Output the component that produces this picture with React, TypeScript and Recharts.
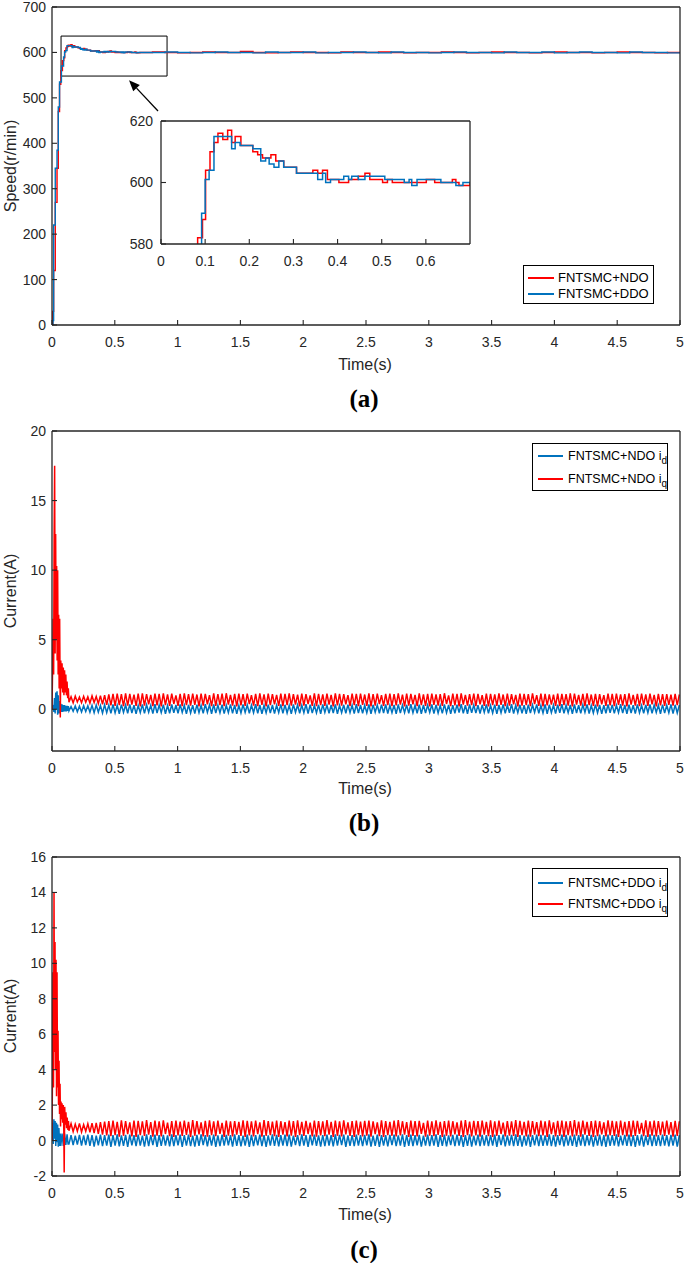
import React from 'react';
import { LineChart, Line, XAxis, YAxis, ReferenceArea, ReferenceLine, Legend } from 'recharts';

const FONT = '"Liberation Sans", Arial, Helvetica, sans-serif';
const SERIF = '"Liberation Serif", "DejaVu Serif", "Times New Roman", serif';
const INK = '#262626';
const RED = '#ff0000';
const BLUE = '#0072bd';

// ---------- tick labels ----------
const TIME_TICKS = [0, 0.5, 1, 1.5, 2, 2.5, 3, 3.5, 4, 4.5, 5];
const SPEED_TICKS = [0, 100, 200, 300, 400, 500, 600, 700];
const INSET_TIME_TICKS = [0, 0.1, 0.2, 0.3, 0.4, 0.5, 0.6];
const INSET_SPEED_TICKS = [580, 600, 620];
const CURRENT_B_TICKS = [0, 5, 10, 15, 20];
const CURRENT_C_TICKS = [-2, 0, 2, 4, 6, 8, 10, 12, 14, 16];

// ---------- series names ----------
const NAME_NDO = 'FNTSMC+NDO';
const NAME_DDO = 'FNTSMC+DDO';
const NAME_NDO_ID = 'FNTSMC+NDO i_d';
const NAME_NDO_IQ = 'FNTSMC+NDO i_q';
const NAME_DDO_ID = 'FNTSMC+DDO i_d';
const NAME_DDO_IQ = 'FNTSMC+DDO i_q';

// ---------- (a) speed, [time s, speed r/min] ----------
const SPEED_NDO_START: [number, number][] = [
  [0, 0], [0.006, 30], [0.013, 120], [0.026, 270], [0.04, 345], [0.05, 470], [0.06, 530], [0.07, 560],
  [0.083, 582], [0.094, 588], [0.101, 604], [0.111, 610], [0.12, 613], [0.129, 616], [0.14, 614],
  [0.151, 617], [0.16, 613], [0.168, 615], [0.181, 612], [0.208, 610], [0.219, 609], [0.23, 608],
  [0.249, 609], [0.26, 607], [0.278, 605], [0.307, 603], [0.344, 604], [0.355, 603], [0.366, 604],
  [0.377, 601], [0.403, 600], [0.425, 601], [0.447, 602], [0.462, 603], [0.473, 601], [0.502, 600],
  [0.513, 601], [0.524, 600], [0.601, 601], [0.62, 600], [0.66, 601], [0.668, 600], [0.675, 599],
];
const SPEED_DDO_START: [number, number][] = [
  [0, 0], [0.008, 10], [0.013, 220], [0.026, 345], [0.04, 385], [0.05, 480], [0.06, 535], [0.075, 570],
  [0.092, 590], [0.1, 601], [0.109, 604], [0.12, 615], [0.16, 611], [0.168, 613], [0.179, 612],
  [0.208, 611], [0.226, 607], [0.237, 608], [0.245, 606], [0.256, 605], [0.267, 607], [0.278, 605],
  [0.307, 603], [0.355, 601], [0.366, 603], [0.373, 600], [0.384, 601], [0.414, 602], [0.425, 601],
  [0.432, 602], [0.447, 601], [0.462, 602], [0.507, 601], [0.551, 600], [0.562, 601], [0.568, 599],
  [0.58, 601], [0.634, 600], [0.668, 599], [0.684, 600],
];
const SPEED_NDO_TAIL: [number, number][] = [
  [0.7, 600], [0.8, 601], [0.9, 600], [1.0, 599], [1.1, 600], [1.2, 601], [1.3, 600], [1.4, 600],
  [1.5, 602], [1.6, 600], [1.7, 599], [1.8, 600], [1.9, 601], [2.0, 600], [2.1, 600], [2.2, 599],
  [2.3, 601], [2.4, 600], [2.5, 600], [2.6, 601], [2.7, 600], [2.8, 599], [2.9, 600], [3.0, 600],
  [3.1, 601], [3.2, 600], [3.3, 599], [3.4, 600], [3.5, 601], [3.6, 600], [3.7, 600], [3.8, 599],
  [3.9, 600], [4.0, 601], [4.1, 600], [4.2, 600], [4.3, 599], [4.4, 600], [4.5, 601], [4.6, 600],
  [4.7, 600], [4.8, 599], [4.9, 600], [5.0, 600],
];
const SPEED_DDO_TAIL: [number, number][] = [
  [0.7, 600], [0.8, 600], [0.9, 601], [1.0, 600], [1.1, 599], [1.2, 600], [1.3, 601], [1.4, 600],
  [1.5, 600], [1.6, 599], [1.7, 601], [1.8, 600], [1.9, 600], [2.0, 601], [2.1, 599], [2.2, 600],
  [2.3, 600], [2.4, 601], [2.5, 600], [2.6, 599], [2.7, 601], [2.8, 600], [2.9, 600], [3.0, 599],
  [3.1, 600], [3.2, 601], [3.3, 600], [3.4, 600], [3.5, 599], [3.6, 601], [3.7, 600], [3.8, 600],
  [3.9, 601], [4.0, 599], [4.1, 600], [4.2, 601], [4.3, 600], [4.4, 600], [4.5, 599], [4.6, 601],
  [4.7, 600], [4.8, 600], [4.9, 599], [5.0, 600],
];
// zoom window and arrow in (a), in data units
const ZOOM_WINDOW = { t1: 0.072, t2: 0.916, v1: 548, v2: 636 };
const ARROW_FROM = { t: 0.844, v: 471 };
const ARROW_TO = { t: 0.613, v: 539 };

// ---------- (b), (c) currents: start-up transient [time s, A] ----------
const IQ_NDO_START: [number, number][] = [
  [0, 0], [0.005, 3.0], [0.009, 6.5], [0.013, 2.5], [0.017, 12.5], [0.021, 17.5], [0.025, 4.0],
  [0.029, 12.6], [0.033, 5.0], [0.037, 10.3], [0.041, 3.5], [0.045, 10.0], [0.049, 2.5], [0.053, 6.8],
  [0.057, 1.5], [0.061, 6.5], [0.066, -0.6], [0.07, 3.5], [0.075, 1.5], [0.08, 3.3], [0.085, 1.2],
  [0.09, 3.0], [0.095, 1.0], [0.1, 2.8], [0.105, 1.2], [0.11, 2.5], [0.115, 1.0], [0.12, 2.0],
  [0.125, 0.8], [0.13, 1.5],
];
const ID_NDO_START: [number, number][] = [
  [0, 0], [0.01, 0.3], [0.015, -0.2], [0.02, 0.8], [0.025, -0.3], [0.03, 1.2], [0.035, 0.0],
  [0.04, 1.3], [0.045, -0.4], [0.05, 1.0], [0.055, -0.3], [0.06, 0.6], [0.065, -0.3], [0.07, 0.4],
  [0.075, -0.2], [0.08, 0.35], [0.085, -0.2], [0.09, 0.3], [0.095, -0.15], [0.1, 0.3], [0.105, -0.15],
  [0.11, 0.25], [0.115, -0.15], [0.12, 0.25], [0.125, -0.12], [0.13, 0.22],
];
const IQ_DDO_START: [number, number][] = [
  [0, 0], [0.004, 4.0], [0.008, 9.5], [0.012, 3.0], [0.016, 14.0], [0.02, 5.0], [0.024, 11.2],
  [0.028, 4.0], [0.032, 10.2], [0.036, 2.5], [0.04, 9.5], [0.044, 3.0], [0.048, 6.2], [0.052, 2.0],
  [0.056, 4.5], [0.06, 1.5], [0.064, 3.2], [0.068, 0.8], [0.072, 2.2], [0.076, 1.2], [0.08, 2.1],
  [0.085, 1.0], [0.09, 2.0], [0.094, 0.6], [0.097, -1.8], [0.101, 1.9], [0.106, 0.9], [0.111, 1.6],
  [0.116, 0.7], [0.121, 1.3], [0.127, 0.6], [0.131, 1.1],
];
const ID_DDO_START: [number, number][] = [
  [0, 0], [0.005, 1.0], [0.01, -0.2], [0.015, 1.2], [0.02, 0.1], [0.025, 1.1], [0.03, -0.3],
  [0.035, 1.0], [0.04, -0.1], [0.045, 0.9], [0.05, -0.35], [0.055, 0.7], [0.06, -0.3], [0.065, 0.4],
  [0.07, -0.3], [0.08, 0.4], [0.09, -0.3], [0.1, 0.4], [0.11, -0.25], [0.12, 0.35], [0.128, -0.2],
];

// steady-state ripple samples, one every STEADY_STEP seconds from STEADY_START
const STEADY_START = 0.135;
const STEADY_STEP = 0.0167;
const IQ_NDO_RIPPLE = [
  0.5, 0.9, 0.46, 0.94, 0.52, 0.88, 0.47, 0.93, 0.5, 0.9,
  0.44, 0.96, 0.48, 0.92, 0.4, 0.98, 0.36, 1.02, 0.32, 1.06,
  0.28, 1.1, 0.25, 1.12, 0.3, 1.08, 0.22, 1.14, 0.26, 1.1,
  0.33, 1.05, 0.24, 1.12, 0.2, 1.15, 0.27, 1.09, 0.35, 1.03,
  0.23, 1.13, 0.28, 1.1, 0.21, 1.14, 0.3, 1.07, 0.25, 1.12,
  0.38, 1.0, 0.24, 1.11, 0.22, 1.15, 0.29, 1.08, 0.26, 1.13,
  0.32, 1.06, 0.21, 1.12, 0.27, 1.1, 0.36, 1.02, 0.23, 1.14,
  0.25, 1.09, 0.3, 1.12, 0.22, 1.15, 0.34, 1.04, 0.27, 1.11,
  0.2, 1.13, 0.28, 1.08, 0.24, 1.12, 0.37, 1.01, 0.26, 1.1,
  0.23, 1.14, 0.31, 1.07, 0.21, 1.12, 0.29, 1.09, 0.35, 1.03,
  0.24, 1.13, 0.22, 1.1, 0.3, 1.15, 0.26, 1.08, 0.33, 1.05,
  0.21, 1.12, 0.27, 1.09, 0.38, 1.0, 0.25, 1.14, 0.22, 1.11,
  0.3, 1.07, 0.24, 1.12, 0.34, 1.04, 0.2, 1.15, 0.28, 1.1,
  0.26, 1.08, 0.36, 1.02, 0.23, 1.13, 0.29, 1.1, 0.22, 1.12,
  0.32, 1.06, 0.25, 1.14, 0.21, 1.09, 0.27, 1.12, 0.37, 1.01,
  0.24, 1.1, 0.3, 1.13, 0.22, 1.08, 0.28, 1.15, 0.33, 1.05,
  0.2, 1.12, 0.26, 1.1, 0.35, 1.03, 0.23, 1.14, 0.29, 1.07,
  0.25, 1.11, 0.21, 1.13, 0.31, 1.06, 0.27, 1.09, 0.24, 1.15,
  0.38, 1.0, 0.22, 1.12, 0.28, 1.1, 0.2, 1.14, 0.34, 1.04,
  0.26, 1.08, 0.3, 1.12, 0.23, 1.1, 0.36, 1.02, 0.25, 1.13,
  0.21, 1.11, 0.29, 1.07, 0.24, 1.15, 0.32, 1.06, 0.22, 1.12,
  0.27, 1.09, 0.35, 1.03, 0.2, 1.13, 0.26, 1.1, 0.3, 1.08,
  0.23, 1.14, 0.37, 1.01, 0.25, 1.12, 0.21, 1.1, 0.28, 1.07,
  0.33, 1.05, 0.24, 1.13, 0.22, 1.11, 0.3, 1.09, 0.26, 1.14,
  0.2, 1.12, 0.34, 1.04, 0.27, 1.1, 0.23, 1.15, 0.29, 1.06,
  0.25, 1.11, 0.21, 1.08, 0.36, 1.02, 0.24, 1.13, 0.28, 1.1,
  0.22, 1.12, 0.31, 1.06, 0.26, 1.09, 0.2, 1.14, 0.33, 1.04,
  0.27, 1.1, 0.23, 1.12, 0.3, 1.07, 0.25, 1.13, 0.35, 1.03,
  0.21, 1.11, 0.28, 1.09, 0.24, 1.08, 0.32, 1.05, 0.26, 1.1,
  0.3, 1.06,
];
const ID_NDO_RIPPLE = [
  -0.12, 0.2, -0.15, 0.24, -0.18, 0.22, -0.2, 0.26, -0.17, 0.25,
  -0.22, 0.28, -0.25, 0.3, -0.21, 0.27, -0.28, 0.32, -0.24, 0.3,
  -0.3, 0.34, -0.26, 0.29, -0.32, 0.33, -0.23, 0.31, -0.29, 0.35,
  -0.27, 0.3, -0.33, 0.28, -0.25, 0.34, -0.3, 0.32, -0.22, 0.29,
  -0.31, 0.36, -0.28, 0.3, -0.24, 0.33, -0.32, 0.27, -0.29, 0.34,
  -0.26, 0.31, -0.3, 0.35, -0.23, 0.29, -0.33, 0.32, -0.27, 0.3,
  -0.31, 0.33, -0.25, 0.28, -0.29, 0.36, -0.22, 0.31, -0.32, 0.34,
  -0.28, 0.3, -0.26, 0.33, -0.31, 0.29, -0.24, 0.35, -0.3, 0.32,
  -0.33, 0.28, -0.27, 0.34, -0.23, 0.31, -0.3, 0.3, -0.25, 0.36,
  -0.29, 0.32, -0.32, 0.29, -0.26, 0.33, -0.28, 0.31, -0.31, 0.3,
  -0.24, 0.35, -0.3, 0.32, -0.27, 0.28, -0.33, 0.34, -0.22, 0.31,
  -0.29, 0.3, -0.25, 0.36, -0.31, 0.33, -0.28, 0.29, -0.26, 0.32,
  -0.32, 0.34, -0.23, 0.3, -0.3, 0.31, -0.27, 0.35, -0.33, 0.28,
  -0.25, 0.32, -0.29, 0.33, -0.24, 0.3, -0.31, 0.36, -0.28, 0.31,
  -0.3, 0.29, -0.26, 0.34, -0.32, 0.32, -0.22, 0.3, -0.29, 0.33,
  -0.27, 0.35, -0.31, 0.28, -0.25, 0.31, -0.33, 0.34, -0.28, 0.3,
  -0.24, 0.32, -0.3, 0.36, -0.26, 0.29, -0.29, 0.33, -0.32, 0.31,
  -0.28, 0.3, -0.23, 0.34, -0.31, 0.32, -0.27, 0.28, -0.3, 0.35,
  -0.25, 0.31, -0.33, 0.3, -0.29, 0.33, -0.24, 0.36, -0.3, 0.29,
  -0.32, 0.34, -0.26, 0.31, -0.28, 0.3, -0.31, 0.32, -0.23, 0.35,
  -0.29, 0.28, -0.27, 0.33, -0.33, 0.31, -0.25, 0.34, -0.3, 0.3,
  -0.26, 0.36, -0.31, 0.29, -0.24, 0.32, -0.29, 0.3, -0.32, 0.33,
  -0.28, 0.31, -0.22, 0.35, -0.3, 0.28, -0.27, 0.34, -0.33, 0.32,
  -0.25, 0.3, -0.31, 0.33, -0.26, 0.36, -0.29, 0.29, -0.24, 0.31,
  -0.32, 0.34, -0.28, 0.3, -0.3, 0.32, -0.23, 0.35, -0.31, 0.28,
  -0.27, 0.33, -0.25, 0.31, -0.33, 0.3, -0.29, 0.34, -0.26, 0.32,
  -0.3, 0.29, -0.24, 0.36, -0.28, 0.31, -0.32, 0.33, -0.27, 0.3,
  -0.31, 0.35, -0.26, 0.28, -0.29, 0.32, -0.25, 0.34, -0.3, 0.31,
  -0.23, 0.3, -0.32, 0.33, -0.28, 0.29, -0.26, 0.35, -0.31, 0.32,
  -0.27, 0.3,
];
const IQ_DDO_RIPPLE = [
  0.55, 0.96, 0.5, 0.92, 0.53, 0.97, 0.48, 0.9, 0.52, 0.95,
  0.47, 0.98, 0.42, 1.0, 0.38, 1.04, 0.33, 1.07, 0.29, 1.1,
  0.25, 1.12, 0.31, 1.06, 0.22, 1.14, 0.27, 1.1, 0.36, 1.02,
  0.24, 1.13, 0.2, 1.11, 0.3, 1.08, 0.26, 1.15, 0.34, 1.04,
  0.22, 1.12, 0.28, 1.09, 0.23, 1.14, 0.37, 1.01, 0.25, 1.1,
  0.21, 1.13, 0.29, 1.07, 0.26, 1.12, 0.32, 1.05, 0.2, 1.15,
  0.27, 1.1, 0.35, 1.03, 0.24, 1.11, 0.22, 1.14, 0.3, 1.08,
  0.25, 1.12, 0.38, 1.0, 0.21, 1.13, 0.28, 1.09, 0.23, 1.1,
  0.33, 1.06, 0.26, 1.14, 0.2, 1.11, 0.29, 1.08, 0.24, 1.12,
  0.36, 1.02, 0.22, 1.15, 0.27, 1.1, 0.31, 1.07, 0.25, 1.13,
  0.21, 1.09, 0.34, 1.04, 0.23, 1.12, 0.28, 1.1, 0.2, 1.14,
  0.3, 1.06, 0.26, 1.11, 0.37, 1.01, 0.24, 1.13, 0.22, 1.1,
  0.29, 1.08, 0.25, 1.15, 0.33, 1.05, 0.21, 1.12, 0.27, 1.09,
  0.23, 1.14, 0.35, 1.03, 0.26, 1.1, 0.2, 1.12, 0.3, 1.07,
  0.24, 1.11, 0.28, 1.13, 0.22, 1.08, 0.36, 1.02, 0.25, 1.14,
  0.21, 1.1, 0.31, 1.06, 0.27, 1.12, 0.23, 1.15, 0.29, 1.09,
  0.34, 1.04, 0.2, 1.13, 0.26, 1.1, 0.24, 1.11, 0.38, 1.0,
  0.22, 1.12, 0.28, 1.08, 0.25, 1.14, 0.32, 1.05, 0.21, 1.1,
  0.27, 1.13, 0.23, 1.09, 0.35, 1.03, 0.26, 1.12, 0.2, 1.15,
  0.3, 1.07, 0.24, 1.11, 0.29, 1.1, 0.22, 1.13, 0.33, 1.06,
  0.25, 1.14, 0.21, 1.09, 0.27, 1.12, 0.37, 1.01, 0.23, 1.1,
  0.28, 1.08, 0.26, 1.15, 0.2, 1.11, 0.31, 1.06, 0.24, 1.13,
  0.22, 1.1, 0.34, 1.04, 0.25, 1.12, 0.29, 1.09, 0.21, 1.14,
  0.36, 1.02, 0.23, 1.11, 0.27, 1.13, 0.2, 1.08, 0.3, 1.1,
  0.24, 1.15, 0.28, 1.07, 0.22, 1.12, 0.33, 1.05, 0.26, 1.1,
  0.21, 1.13, 0.25, 1.09, 0.35, 1.03, 0.23, 1.14, 0.29, 1.11,
  0.27, 1.08, 0.2, 1.12, 0.31, 1.06, 0.24, 1.1, 0.22, 1.13,
  0.26, 1.11, 0.38, 1.0, 0.25, 1.14, 0.21, 1.09, 0.28, 1.12,
  0.23, 1.1, 0.3, 1.07, 0.26, 1.13, 0.34, 1.04, 0.22, 1.11,
  0.27, 1.09,
];
const ID_DDO_RIPPLE = [
  -0.2, 0.3, -0.26, 0.27, -0.23, 0.32, -0.28, 0.29, -0.25, 0.33,
  -0.3, 0.31, -0.34, 0.28, -0.27, 0.34, -0.32, 0.3, -0.29, 0.33,
  -0.35, 0.31, -0.28, 0.35, -0.33, 0.29, -0.3, 0.32, -0.36, 0.34,
  -0.27, 0.3, -0.32, 0.33, -0.29, 0.28, -0.34, 0.35, -0.31, 0.31,
  -0.26, 0.34, -0.35, 0.3, -0.3, 0.32, -0.28, 0.29, -0.33, 0.35,
  -0.31, 0.31, -0.27, 0.33, -0.36, 0.3, -0.29, 0.34, -0.32, 0.28,
  -0.34, 0.32, -0.3, 0.35, -0.26, 0.31, -0.33, 0.3, -0.28, 0.33,
  -0.35, 0.29, -0.31, 0.34, -0.29, 0.32, -0.27, 0.3, -0.34, 0.35,
  -0.3, 0.31, -0.33, 0.28, -0.28, 0.33, -0.36, 0.32, -0.31, 0.3,
  -0.27, 0.34, -0.32, 0.31, -0.35, 0.29, -0.29, 0.35, -0.3, 0.32,
  -0.33, 0.3, -0.28, 0.33, -0.31, 0.34, -0.34, 0.28, -0.26, 0.31,
  -0.32, 0.35, -0.29, 0.3, -0.36, 0.32, -0.27, 0.33, -0.3, 0.29,
  -0.34, 0.31, -0.31, 0.34, -0.28, 0.3, -0.33, 0.35, -0.29, 0.32,
  -0.26, 0.33, -0.35, 0.29, -0.3, 0.31, -0.32, 0.34, -0.28, 0.3,
  -0.31, 0.32, -0.27, 0.35, -0.34, 0.28, -0.3, 0.33, -0.36, 0.31,
  -0.29, 0.3, -0.33, 0.32, -0.26, 0.34, -0.31, 0.29, -0.28, 0.35,
  -0.35, 0.31, -0.3, 0.33, -0.32, 0.3, -0.27, 0.32, -0.34, 0.28,
  -0.28, 0.34, -0.31, 0.31, -0.29, 0.35, -0.36, 0.3, -0.3, 0.33,
  -0.33, 0.29, -0.26, 0.32, -0.32, 0.34, -0.29, 0.31, -0.35, 0.3,
  -0.3, 0.35, -0.34, 0.28, -0.27, 0.33, -0.31, 0.32, -0.28, 0.3,
  -0.32, 0.31, -0.29, 0.34, -0.35, 0.3, -0.26, 0.33, -0.33, 0.29,
  -0.28, 0.32, -0.31, 0.35, -0.3, 0.31, -0.34, 0.28, -0.29, 0.34,
  -0.36, 0.3, -0.27, 0.33, -0.32, 0.32, -0.3, 0.29, -0.28, 0.35,
  -0.31, 0.31, -0.34, 0.3, -0.26, 0.34, -0.33, 0.32, -0.29, 0.28,
  -0.3, 0.33, -0.35, 0.31, -0.28, 0.35, -0.32, 0.3, -0.27, 0.32,
  -0.34, 0.29, -0.29, 0.34, -0.31, 0.31, -0.36, 0.33, -0.3, 0.3,
  -0.28, 0.35, -0.33, 0.28, -0.27, 0.32, -0.3, 0.34, -0.32, 0.31,
  -0.35, 0.3, -0.29, 0.33, -0.34, 0.29, -0.26, 0.35, -0.31, 0.32,
  -0.3, 0.31, -0.32, 0.34, -0.28, 0.3, -0.33, 0.32, -0.29, 0.33,
  -0.34, 0.3,
];

// ---------- helpers that turn the arrays into chart rows ----------
type Pt = { t: number; v: number };
const fromPairs = (pairs: [number, number][]): Pt[] => pairs.map(([t, v]) => ({ t, v }));
const fromRipple = (values: number[]): Pt[] =>
  values.map((v, i) => ({ t: Math.round((STEADY_START + i * STEADY_STEP) * 10000) / 10000, v }));

const speedNdo = fromPairs([...SPEED_NDO_START, ...SPEED_NDO_TAIL]);
const speedDdo = fromPairs([...SPEED_DDO_START, ...SPEED_DDO_TAIL]);
const idNdo = [...fromPairs(ID_NDO_START), ...fromRipple(ID_NDO_RIPPLE)];
const iqNdo = [...fromPairs(IQ_NDO_START), ...fromRipple(IQ_NDO_RIPPLE)];
const idDdo = [...fromPairs(ID_DDO_START), ...fromRipple(ID_DDO_RIPPLE)];
const iqDdo = [...fromPairs(IQ_DDO_START), ...fromRipple(IQ_DDO_RIPPLE)];

// ---------- styling ----------
const axisLineStyle = { stroke: INK, strokeWidth: 1.3 };
const tickLineStyle = { stroke: INK, strokeWidth: 1.1 };
const tickText = { fontSize: 14, fill: INK, fontFamily: FONT };

type BoxOpts = {
  xDomain: [number, number];
  xTicks: number[];
  yDomain: [number, number];
  yTicks: number[];
  xHeight: number;
  yWidth: number;
  xTickMargin: number;
  yTickMargin: number;
};

// left/bottom axes with labels, plus top/right axes (1px) giving the closed box with inward ticks
function boxAxes(o: BoxOpts) {
  return [
    <XAxis key="xb" xAxisId="x" dataKey="t" type="number" domain={o.xDomain} ticks={o.xTicks} interval={0}
      allowDataOverflow height={o.xHeight} tickSize={-5} tickMargin={o.xTickMargin} tick={tickText}
      tickLine={tickLineStyle} axisLine={axisLineStyle} />,
    <XAxis key="xt" xAxisId="xt" orientation="top" type="number" domain={o.xDomain} ticks={o.xTicks} interval={0}
      allowDataOverflow height={1} tickSize={-5} tick={false} tickLine={tickLineStyle} axisLine={axisLineStyle} />,
    <YAxis key="yl" yAxisId="y" type="number" domain={o.yDomain} ticks={o.yTicks} interval={0}
      allowDataOverflow width={o.yWidth} tickSize={-5} tickMargin={o.yTickMargin} tick={tickText}
      tickLine={tickLineStyle} axisLine={axisLineStyle} />,
    <YAxis key="yr" yAxisId="yr" orientation="right" type="number" domain={o.yDomain} ticks={o.yTicks} interval={0}
      allowDataOverflow width={1} tickSize={-5} tick={false} tickLine={tickLineStyle} axisLine={axisLineStyle} />,
  ];
}

type LegendSpec = {
  order: string[];
  width: number; height: number; rows: number[];
  lineFrom: number; lineTo: number; textLeft: number; fontSize: number;
};

function legendContent(spec: LegendSpec) {
  return (props: any) => {
    const items: any[] = [...(props.payload || [])].sort(
      (a, b) => spec.order.indexOf(String(a.value)) - spec.order.indexOf(String(b.value)),
    );
    return (
      <div style={{
        position: 'relative', width: spec.width, height: spec.height, border: '1.3px solid #000',
        boxSizing: 'border-box', background: '#fff', fontFamily: FONT, color: '#000',
      }}>
        {items.map((it, i) => {
          const [main, sub] = String(it.value).split('_');
          return (
            <div key={i} style={{ position: 'absolute', left: 0, top: spec.rows[i], width: '100%', height: 0 }}>
              <div style={{
                position: 'absolute', left: spec.lineFrom, width: spec.lineTo - spec.lineFrom,
                top: -0.6, height: 1.2, background: it.color,
              }} />
              <div style={{
                position: 'absolute', left: spec.textLeft, top: -spec.fontSize * 0.6,
                fontSize: spec.fontSize, lineHeight: `${spec.fontSize * 1.2}px`, whiteSpace: 'nowrap',
              }}>
                {main}
                {sub ? <span style={{ fontSize: spec.fontSize * 0.8, position: 'relative', top: 4 }}>{sub}</span> : null}
              </div>
            </div>
          );
        })}
      </div>
    );
  };
}

const ArrowShape = (props: any) => {
  const { x1, y1, x2, y2 } = props;
  if ([x1, y1, x2, y2].some((n) => typeof n !== 'number' || isNaN(n))) return <g />;
  const ang = Math.atan2(y2 - y1, x2 - x1);
  const L = 11;
  const W = 4.5;
  const bx = x2 - L * Math.cos(ang);
  const by = y2 - L * Math.sin(ang);
  const px = -Math.sin(ang) * W;
  const py = Math.cos(ang) * W;
  return (
    <g>
      <line x1={x1} y1={y1} x2={bx} y2={by} stroke="#000" strokeWidth={1.3} />
      <polygon points={`${x2},${y2} ${bx + px},${by + py} ${bx - px},${by - py}`} fill="#000" />
    </g>
  );
};

const textAt = (left: number, top: number, extra: React.CSSProperties = {}): React.CSSProperties => ({
  position: 'absolute', left, top, transform: 'translate(-50%, -50%)', whiteSpace: 'nowrap',
  fontFamily: FONT, fontSize: 16, color: INK, lineHeight: '18px', ...extra,
});
const yLabelAt = (left: number, top: number): React.CSSProperties => ({
  ...textAt(left, top), transform: 'translate(-50%, -50%) rotate(-90deg)',
});
const captionAt = (left: number, top: number): React.CSSProperties => ({
  ...textAt(left, top, { fontFamily: SERIF, fontWeight: 'bold', fontSize: 25, color: '#000', lineHeight: '28px' }),
});

export default function App() {
  return (
    <div style={{ position: 'absolute', left: 0, top: 0, width: 685, height: 1263, background: '#fff', fontFamily: FONT }}>
      {/* (a) speed */}
      <div style={{ position: 'absolute', left: 0, top: 0 }}>
        <LineChart width={685} height={360} margin={{ top: 6, right: 4, bottom: 0, left: 0 }}>
          {boxAxes({ xDomain: [0, 5], xTicks: TIME_TICKS, yDomain: [0, 700], yTicks: SPEED_TICKS, xHeight: 35, yWidth: 52, xTickMargin: 17, yTickMargin: 11 })}
          <ReferenceArea xAxisId="x" yAxisId="y" x1={ZOOM_WINDOW.t1} x2={ZOOM_WINDOW.t2} y1={ZOOM_WINDOW.v1} y2={ZOOM_WINDOW.v2}
            fill="none" fillOpacity={0} stroke="#000" strokeWidth={1} />
          <ReferenceLine xAxisId="x" yAxisId="y"
            segment={[{ x: ARROW_FROM.t, y: ARROW_FROM.v }, { x: ARROW_TO.t, y: ARROW_TO.v }]}
            shape={ArrowShape} />
          <Line xAxisId="x" yAxisId="y" data={speedNdo} dataKey="v" name={NAME_NDO} type="stepAfter" stroke={RED}
            strokeWidth={1.4} dot={false} activeDot={false} isAnimationActive={false} />
          <Line xAxisId="x" yAxisId="y" data={speedDdo} dataKey="v" name={NAME_DDO} type="stepAfter" stroke={BLUE}
            strokeWidth={1.4} dot={false} activeDot={false} isAnimationActive={false} />
          <Legend layout="horizontal" verticalAlign="middle" align="center"
            wrapperStyle={{ left: 523, top: 265, width: 131, height: 39 }}
            content={legendContent({ order: [NAME_NDO, NAME_DDO], width: 131, height: 39, rows: [12, 28], lineFrom: 4, lineTo: 30, textLeft: 34, fontSize: 13 })} />
        </LineChart>
      </div>

      {/* (a) inset */}
      <div style={{ position: 'absolute', left: 110, top: 110 }}>
        <LineChart width={370} height={170} margin={{ top: 10, right: 9, bottom: 0, left: 0 }}>
          {boxAxes({ xDomain: [0, 0.7], xTicks: INSET_TIME_TICKS, yDomain: [580, 620], yTicks: INSET_SPEED_TICKS, xHeight: 36, yWidth: 51, xTickMargin: 17, yTickMargin: 13 })}
          <Line xAxisId="x" yAxisId="y" data={speedNdo} dataKey="v" name={NAME_NDO} type="stepAfter" stroke={RED}
            strokeWidth={1.5} dot={false} activeDot={false} isAnimationActive={false} />
          <Line xAxisId="x" yAxisId="y" data={speedDdo} dataKey="v" name={NAME_DDO} type="stepAfter" stroke={BLUE}
            strokeWidth={1.5} dot={false} activeDot={false} isAnimationActive={false} />
        </LineChart>
      </div>

      {/* (b) currents with NDO */}
      <div style={{ position: 'absolute', left: 0, top: 420 }}>
        <LineChart width={685} height={360} margin={{ top: 10, right: 4, bottom: 0, left: 0 }}>
          {boxAxes({ xDomain: [0, 5], xTicks: TIME_TICKS, yDomain: [-3, 20], yTicks: CURRENT_B_TICKS, xHeight: 29, yWidth: 52, xTickMargin: 17, yTickMargin: 11 })}
          <Line xAxisId="x" yAxisId="y" data={idNdo} dataKey="v" name={NAME_NDO_ID} stroke={BLUE}
            strokeWidth={1.5} dot={false} activeDot={false} isAnimationActive={false} />
          <Line xAxisId="x" yAxisId="y" data={iqNdo} dataKey="v" name={NAME_NDO_IQ} stroke={RED}
            strokeWidth={1.5} dot={false} activeDot={false} isAnimationActive={false} />
          <Legend layout="horizontal" verticalAlign="middle" align="center"
            wrapperStyle={{ left: 532, top: 23, width: 136, height: 48 }}
            content={legendContent({ order: [NAME_NDO_ID, NAME_NDO_IQ], width: 136, height: 48, rows: [12, 35], lineFrom: 5, lineTo: 30, textLeft: 35, fontSize: 12.5 })} />
        </LineChart>
      </div>

      {/* (c) currents with DDO */}
      <div style={{ position: 'absolute', left: 0, top: 846 }}>
        <LineChart width={685} height={360} margin={{ top: 10, right: 4, bottom: 0, left: 0 }}>
          {boxAxes({ xDomain: [0, 5], xTicks: TIME_TICKS, yDomain: [-2, 16], yTicks: CURRENT_C_TICKS, xHeight: 30, yWidth: 52, xTickMargin: 17, yTickMargin: 11 })}
          <Line xAxisId="x" yAxisId="y" data={idDdo} dataKey="v" name={NAME_DDO_ID} stroke={BLUE}
            strokeWidth={1.5} dot={false} activeDot={false} isAnimationActive={false} />
          <Line xAxisId="x" yAxisId="y" data={iqDdo} dataKey="v" name={NAME_DDO_IQ} stroke={RED}
            strokeWidth={1.5} dot={false} activeDot={false} isAnimationActive={false} />
          <Legend layout="horizontal" verticalAlign="middle" align="center"
            wrapperStyle={{ left: 532, top: 22, width: 136, height: 49 }}
            content={legendContent({ order: [NAME_DDO_ID, NAME_DDO_IQ], width: 136, height: 49, rows: [14, 35], lineFrom: 5, lineTo: 30, textLeft: 35, fontSize: 12.5 })} />
        </LineChart>
      </div>

      {/* axis titles and captions */}
      <div style={yLabelAt(11, 166)}>Speed(r/min)</div>
      <div style={textAt(365, 365)}>Time(s)</div>
      <div style={captionAt(364, 399)}>(a)</div>

      <div style={yLabelAt(11, 591)}>Current(A)</div>
      <div style={textAt(365, 789)}>Time(s)</div>
      <div style={captionAt(364, 823)}>(b)</div>

      <div style={yLabelAt(11, 1016)}>Current(A)</div>
      <div style={textAt(365, 1215)}>Time(s)</div>
      <div style={captionAt(364, 1250)}>(c)</div>
    </div>
  );
}
